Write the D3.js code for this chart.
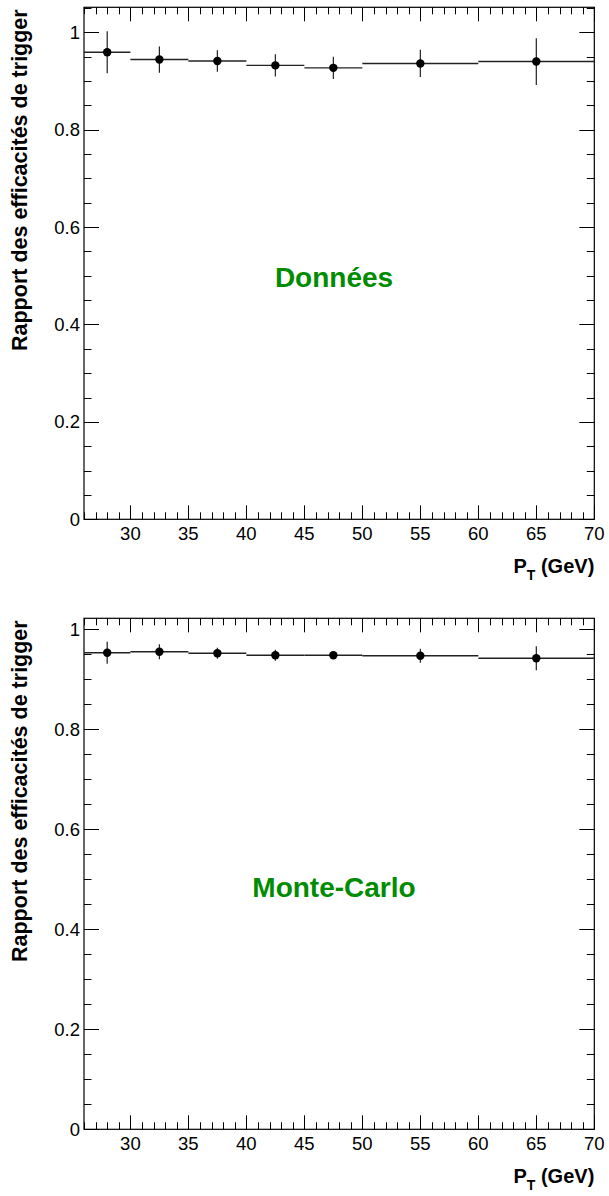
<!DOCTYPE html>
<html>
<head>
<meta charset="utf-8">
<script src="https://cdn.jsdelivr.net/npm/d3@7"></script>
<style>
  html, body { margin: 0; padding: 0; background: #fff; }
  svg { display: block; }
  text { font-family: "Liberation Sans", Arial, Helvetica, sans-serif; }
</style>
</head>
<body>
<svg id="chart" width="609" height="1196"></svg>
<script>
// ---- Data ----
const binEdges = [26, 30, 35, 40, 45, 50, 60, 70];
const dataValues = [0.959, 0.944, 0.941, 0.932, 0.927, 0.936, 0.940];
const dataErrors = [0.043, 0.027, 0.022, 0.023, 0.023, 0.028, 0.048];
const mcValues = [0.953, 0.955, 0.952, 0.948, 0.948, 0.947, 0.942];
const mcErrors = [0.022, 0.015, 0.011, 0.011, 0.006, 0.014, 0.024];
const xTickValues = [30, 35, 40, 45, 50, 55, 60, 65, 70];
const yTickValues = [0, 0.2, 0.4, 0.6, 0.8, 1];
const yAxisTitle = "Rapport des efficacités de trigger";
const panelLabels = ["Données", "Monte-Carlo"];

const svg = d3.select("#chart");

const panels = [
  { top: 7.3, bottom: 519.3, yMax: 1.0513, values: dataValues, errors: dataErrors, label: panelLabels[0], labelY: 286.5 },
  { top: 618.3, bottom: 1129.3, yMax: 1.022, values: mcValues, errors: mcErrors, label: panelLabels[1], labelY: 897 }
];

const left = 84, right = 594.3;
const green = "#008c00";

panels.forEach(p => {
  const g = svg.append("g");
  const x = d3.scaleLinear().domain([26, 70]).range([left, right]);
  const y = d3.scaleLinear().domain([0, p.yMax]).range([p.bottom, p.top]);

  // ticks
  const xMinor = d3.range(26, 70.001, 1);
  const yMinor = d3.range(0, p.yMax + 1e-9, 0.05);
  const isMajorX = v => Math.abs(v / 5 - Math.round(v / 5)) < 1e-6;
  const isMajorY = v => Math.abs(v / 0.2 - Math.round(v / 0.2)) < 1e-6;
  const tk = g.append("g").attr("stroke", "#000").attr("stroke-width", 1);
  xMinor.forEach(v => {
    const L = isMajorX(v) ? 14 : 7;
    const xp = Math.round(x(v)) + 0.5;
    tk.append("line").attr("x1", xp).attr("x2", xp).attr("y1", p.bottom).attr("y2", p.bottom - L);
    tk.append("line").attr("x1", xp).attr("x2", xp).attr("y1", p.top).attr("y2", p.top + L);
  });
  yMinor.forEach(v => {
    const L = isMajorY(v) ? 15 : 7.5;
    const yp = Math.round(y(v)) + 0.5;
    tk.append("line").attr("y1", yp).attr("y2", yp).attr("x1", left).attr("x2", left + L);
    tk.append("line").attr("y1", yp).attr("y2", yp).attr("x1", right).attr("x2", right - L);
  });

  // frame
  g.append("rect")
    .attr("x", left).attr("y", p.top)
    .attr("width", right - left).attr("height", p.bottom - p.top)
    .attr("fill", "none").attr("stroke", "#000").attr("stroke-width", 1.2);

  // tick labels
  g.selectAll(".xl").data(xTickValues).enter().append("text")
    .attr("x", d => x(d)).attr("y", p.bottom + 21)
    .attr("text-anchor", "middle").attr("font-size", 18.5).attr("fill", "#000")
    .text(d => d);
  g.selectAll(".yl").data(yTickValues).enter().append("text")
    .attr("x", left - 4).attr("y", d => y(d) + 6.5)
    .attr("text-anchor", "end").attr("font-size", 18.5).attr("fill", "#000")
    .text(d => d3.format("")(d));

  // axis titles
  const xt = g.append("text")
    .attr("x", right).attr("y", p.bottom + 54)
    .attr("text-anchor", "end").attr("font-size", 20).attr("font-weight", "bold").attr("fill", "#000");
  xt.append("tspan").text("P");
  xt.append("tspan").attr("dy", 7).attr("font-size", 14).text("T");
  xt.append("tspan").attr("dy", -7).text(" (GeV)");

  g.append("text")
    .attr("transform", `translate(27,${p.top + 2}) rotate(-90)`)
    .attr("text-anchor", "end").attr("font-size", 21.5).attr("font-weight", "bold").attr("fill", "#000")
    .text(yAxisTitle);

  // histogram bin lines
  const bins = p.values.map((v, i) => ({ x0: binEdges[i], x1: binEdges[i + 1], v, e: p.errors[i] }));
  g.selectAll(".hl").data(bins).enter().append("line")
    .attr("x1", d => x(d.x0)).attr("x2", d => x(d.x1))
    .attr("y1", d => y(d.v)).attr("y2", d => y(d.v))
    .attr("stroke", "#222").attr("stroke-width", 1.4);
  g.selectAll(".eb").data(bins).enter().append("line")
    .attr("x1", d => x((d.x0 + d.x1) / 2)).attr("x2", d => x((d.x0 + d.x1) / 2))
    .attr("y1", d => y(d.v - d.e)).attr("y2", d => y(d.v + d.e))
    .attr("stroke", "#222").attr("stroke-width", 1.2);
  g.selectAll(".pt").data(bins).enter().append("circle")
    .attr("cx", d => x((d.x0 + d.x1) / 2)).attr("cy", d => y(d.v))
    .attr("r", 4.2).attr("fill", "#000");

  // label
  g.append("text")
    .attr("x", 334).attr("y", p.labelY)
    .attr("text-anchor", "middle").attr("font-size", 28).attr("font-weight", "bold").attr("fill", green)
    .text(p.label);
});
</script>
</body>
</html>
